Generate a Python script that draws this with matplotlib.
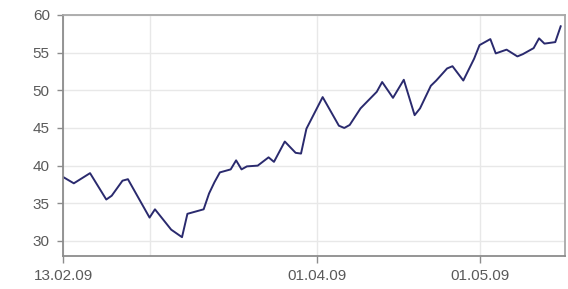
import numpy as np
import matplotlib
matplotlib.use("Agg")
import matplotlib.pyplot as plt
import matplotlib.dates as mdates

# Data
dates = np.array([
    "2009-02-13", "2009-02-15", "2009-02-18", "2009-02-21", "2009-02-22",
    "2009-02-24", "2009-02-25", "2009-03-01", "2009-03-02", "2009-03-05",
    "2009-03-07", "2009-03-08", "2009-03-10", "2009-03-11", "2009-03-12",
    "2009-03-13", "2009-03-14", "2009-03-16", "2009-03-17", "2009-03-18",
    "2009-03-19", "2009-03-21", "2009-03-23", "2009-03-24", "2009-03-26",
    "2009-03-28", "2009-03-29", "2009-03-30", "2009-04-02", "2009-04-05",
    "2009-04-06", "2009-04-07", "2009-04-09", "2009-04-12", "2009-04-13",
    "2009-04-15", "2009-04-17", "2009-04-19", "2009-04-20", "2009-04-22",
    "2009-04-23", "2009-04-25", "2009-04-26", "2009-04-28", "2009-04-30",
    "2009-05-01", "2009-05-03", "2009-05-04", "2009-05-06", "2009-05-08",
    "2009-05-09", "2009-05-11", "2009-05-12", "2009-05-13", "2009-05-15",
    "2009-05-16",
], dtype="datetime64[D]")

prices = [
    38.5, 37.65, 39.0, 35.5, 36.0,
    38.0, 38.2, 33.1, 34.2, 31.5,
    30.5, 33.6, 34.0, 34.2, 36.3,
    37.8, 39.1, 39.5, 40.7, 39.5,
    39.9, 40.0, 41.1, 40.5, 43.2,
    41.7, 41.6, 44.9, 49.1, 45.3,
    45.0, 45.4, 47.6, 49.8, 51.1,
    49.0, 51.4, 46.7, 47.6, 50.6,
    51.3, 52.9, 53.2, 51.3, 54.2,
    56.0, 56.8, 54.9, 55.4, 54.5,
    54.8, 55.6, 56.9, 56.2, 56.4,
    58.5,
]

tick_dates = np.array(["2009-02-13", "2009-04-01", "2009-05-01"], dtype="datetime64[D]")
tick_labels = ["13.02.09", "01.04.09", "01.05.09"]
grid_only_dates = np.array(["2009-03-01"], dtype="datetime64[D]")
y_ticks = [30, 35, 40, 45, 50, 55, 60]

plt.rcParams["font.family"] = ["Liberation Sans", "DejaVu Sans"]

fig = plt.figure(figsize=(5.68, 2.89), dpi=100)
ax = fig.add_axes([63 / 568, 33 / 289, 502 / 568, 241 / 289])

ax.plot(dates, prices, color="#2a2a6e", linewidth=1.4)

start = mdates.date2num(np.datetime64("2009-02-13"))
ax.set_xlim(start, start + 92.8)
ax.set_ylim(28, 60)

ax.set_xticks(mdates.date2num(tick_dates))
ax.set_xticklabels(tick_labels)
ax.set_xticks(mdates.date2num(grid_only_dates), minor=True)
ax.set_yticks(y_ticks)

ax.grid(True, which="both", color="#e8e8e8", linewidth=1.0)
ax.set_axisbelow(True)

for side in ["top", "right"]:
    ax.spines[side].set_color("#a8a8a8")
    ax.spines[side].set_linewidth(1.3)
for side in ["left", "bottom"]:
    ax.spines[side].set_color("#8c8c8c")
    ax.spines[side].set_linewidth(1.3)

ax.tick_params(axis="y", length=4.5, width=1.0, color="#8c8c8c", pad=5,
               labelsize=11, labelcolor="#5a5a5a")
ax.tick_params(axis="x", length=5, width=1.0, color="#8c8c8c", pad=4,
               labelsize=11, labelcolor="#5a5a5a")
ax.tick_params(axis="x", which="minor", length=0)

fig.savefig("out.png", dpi=100)
